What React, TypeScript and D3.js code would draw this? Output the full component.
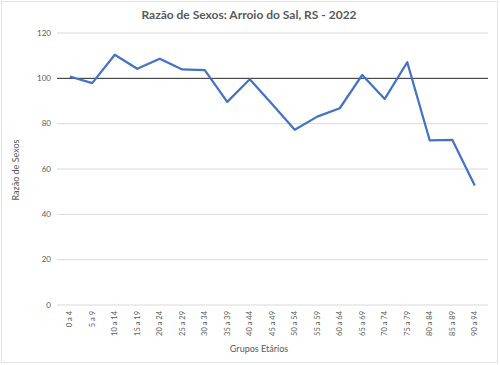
import React from "react";
import * as d3 from "d3";

const categories = ["0 a 4","5 a 9","10 a 14","15 a 19","20 a 24","25 a 29","30 a 34","35 a 39","40 a 44","45 a 49","50 a 54","55 a 59","60 a 64","65 a 69","70 a 74","75 a 79","80 a 84","85 a 89","90 a 94"];
const values = [100.8, 97.9, 110.4, 104.2, 108.6, 103.9, 103.6, 89.6, 99.6, 88.6, 77.3, 83.1, 86.8, 101.5, 90.9, 107.1, 72.6, 72.9, 52.7];
const yTicks = [0, 20, 40, 60, 80, 100, 120];
const refValue = 100;

const W = 500, H = 365;
const FONT = "Lato, 'Open Sans', sans-serif";

export default function App() {
  const x = d3.scaleBand<string>().domain(categories).range([58.5, 486]);
  const y = d3.scaleLinear().domain([0, 120]).range([305, 33]);
  const line = d3.line<number>()
    .x((_, i) => (x(categories[i]) as number) + x.bandwidth() / 2)
    .y((d) => y(d));
  return (
    <svg width={W} height={H} style={{ position: "absolute", left: 0, top: 0, background: "#fff" }} fontFamily={FONT}>
      <rect x={1.5} y={1.5} width={W - 4} height={H - 4} fill="#fff" stroke="#e3e3e3" />
      <text x={249} y={19} textAnchor="middle" fontSize={12} fontWeight="bold" fill="#595959">
        Razão de Sexos: Arroio do Sal, RS - 2022
      </text>
      {yTicks.map((t) => (
        <g key={t}>
          {t !== refValue && (
            <line x1={57} x2={488} y1={y(t)} y2={y(t)} stroke="#d9d9d9" strokeWidth={1} />
          )}
          <text x={51} y={y(t)} dy="0.35em" textAnchor="end" fontSize={8} fill="#595959">{t}</text>
        </g>
      ))}
      <line x1={57} x2={488} y1={y(refValue)} y2={y(refValue)} stroke="#262626" strokeWidth={1} />
      <path d={line(values) || ""} fill="none" stroke="#4472C4" strokeWidth={2.25} strokeLinejoin="round" />
      {categories.map((c) => {
        const cx = (x(c) as number) + x.bandwidth() / 2;
        return (
          <text key={c} transform={`translate(${cx},${311}) rotate(-90)`} textAnchor="end" dy="0.35em" fontSize={7.5} fill="#595959">
            {c}
          </text>
        );
      })}
      <text x={259} y={352} textAnchor="middle" fontSize={9} fill="#595959">Grupos Etários</text>
      <text transform={`translate(19,170) rotate(-90)`} textAnchor="middle" fontSize={9} fill="#595959">Razão de Sexos</text>
    </svg>
  );
}
